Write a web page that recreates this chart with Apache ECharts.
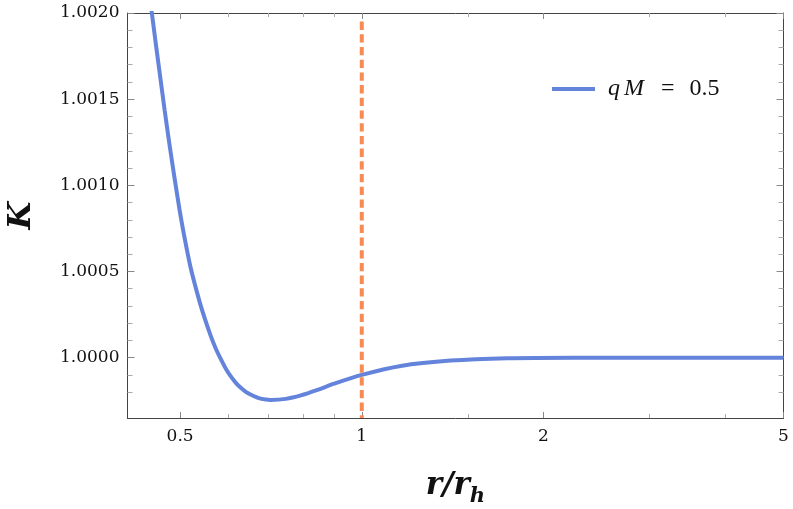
<!DOCTYPE html>
<html><head><meta charset="utf-8">
<script src="https://cdn.jsdelivr.net/npm/echarts@6/dist/echarts.min.js"></script>
<style>html,body{margin:0;padding:0;background:#fff}#c{width:793px;height:509px}</style>
</head><body><div id="c"></div>
<script>
// ---- data ----
const rValues = [0.4482, 0.4556, 0.4634, 0.4713, 0.4798, 0.4891, 0.4990, 0.5069, 0.5200, 0.5376, 0.5494, 0.5621, 0.5730, 0.5843, 0.5953, 0.6067, 0.6184, 0.6303, 0.6424, 0.6552, 0.6751, 0.6934, 0.7067, 0.7483, 0.7925, 0.8446, 0.8998, 1.0, 1.1604, 1.404, 1.743, 2.245, 3.0, 4.0, 5.0];
const kValues = [1.002016, 1.001823, 1.001629, 1.001436, 1.001243, 1.001049, 1.000856, 1.000721, 1.000528, 1.000334, 1.000226, 1.000125, 1.000052, 0.999990, 0.999936, 0.999891, 0.999854, 0.999825, 0.999802, 0.999785, 0.999765, 0.999757, 0.999755, 0.999761, 0.999781, 0.999813, 0.999849, 0.999900, 0.999952, 0.999983, 0.999997, 1.000000, 1.000000, 1.000000, 1.000000];
const seriesName = 'qM = 0.5';
const horizonR = [1, 1];
const horizonK = [1.00195, 0.99965];
const xMajorTicks = [0.5, 1, 2, 5];
const xMinorTicks = [0.6, 0.7, 0.8, 0.9, 1.5, 3, 4];
const yMajorTicks = [1.0000, 1.0005, 1.0010, 1.0015, 1.0020];
const yMinorTicks = [0.9998, 0.9999, 1.0001, 1.0002, 1.0003, 1.0004, 1.0006, 1.0007, 1.0008, 1.0009, 1.0011, 1.0012, 1.0013, 1.0014, 1.0016, 1.0017, 1.0018, 1.0019];
const xRange = [0.409, 5];
const yRange = [0.99965, 1.0020];

const blue = '#6483DB';
const orange = '#F88A54';
const frame = '#444';
const tickFont = 'DejaVu Serif';

function xAxisDef(pos, ticks, len, showLine, label, tickColor) {
  const a = {
    type: 'log', logBase: 10, min: xRange[0], max: xRange[1], position: pos,
    axisLine: { show: showLine, onZero: false, lineStyle: { color: frame, width: 1 } },
    axisTick: { show: true, inside: true, length: len, customValues: ticks, lineStyle: { color: tickColor, width: 1 } },
    axisLabel: { show: !!label, customValues: ticks, margin: 10, color: '#111', fontFamily: tickFont, fontSize: 17, formatter: v => String(+(+v).toPrecision(6)) },
    splitLine: { show: false }, minorTick: { show: false }, minorSplitLine: { show: false }
  };
  if (label) {
    a.name = '{m|r/r}{s|h}';
    a.nameLocation = 'middle';
    a.nameGap = 52;
    a.nameTextStyle = {
      rich: {
        m: { fontFamily: 'DejaVu Serif', fontWeight: 'bold', fontStyle: 'italic', fontSize: 31, color: '#111', verticalAlign: 'bottom', padding: [0, 0, 6, 0] },
        s: { fontFamily: 'DejaVu Serif', fontWeight: 'bold', fontStyle: 'italic', fontSize: 21, color: '#111', verticalAlign: 'bottom' }
      }
    };
  }
  return a;
}
function yAxisDef(pos, ticks, len, showLine, label, tickColor) {
  const a = {
    type: 'value', min: yRange[0], max: yRange[1], position: pos,
    axisLine: { show: showLine, onZero: false, lineStyle: { color: frame, width: 1 } },
    axisTick: { show: true, inside: true, length: len, customValues: ticks, lineStyle: { color: tickColor, width: 1 } },
    axisLabel: { show: !!label, customValues: ticks, margin: 8, color: '#111', fontFamily: tickFont, fontSize: 17, formatter: v => (+v).toFixed(4) },
    splitLine: { show: false }, minorTick: { show: false }, minorSplitLine: { show: false }
  };
  if (label) {
    a.name = 'K';
    a.nameLocation = 'middle';
    a.nameGap = 90;
    a.nameTextStyle = { fontFamily: 'DejaVu Serif', fontWeight: 'bold', fontStyle: 'italic', fontSize: 32, color: '#111' };
  }
  return a;
}

const chart = echarts.init(document.getElementById('c'), null, { renderer: 'canvas' });
chart.setOption({
  animation: false,
  backgroundColor: '#fff',
  grid: { left: 127.5, right: 9.5, top: 13, bottom: 91, containLabel: false, outerBoundsMode: 'none' },
  legend: {
    data: [seriesName], left: 547, top: 72, icon: 'rect', itemWidth: 43, itemHeight: 4,
    formatter: () => '{sp| }{it|q}{sp2| }{it|M}{sp3| }{rm|=}{sp4| }{rm|0.5}',
    textStyle: {
      fontFamily: 'Liberation Serif', fontSize: 24, color: '#111',
      rich: {
        sp: { width: 8, fontFamily: 'Liberation Serif', fontSize: 24 },
        sp2: { width: 4, fontFamily: 'Liberation Serif', fontSize: 24 },
        sp3: { width: 17, fontFamily: 'Liberation Serif', fontSize: 24 },
        sp4: { width: 15, fontFamily: 'Liberation Serif', fontSize: 24 },
        it: { fontFamily: 'Liberation Serif', fontStyle: 'italic', fontSize: 24, color: '#111' },
        rm: { fontFamily: 'Liberation Serif', fontStyle: 'normal', fontSize: 24, color: '#111' }
      }
    }
  },
  xAxis: [
    xAxisDef('bottom', xMajorTicks, 6, true, true, '#888'),
    xAxisDef('bottom', xMinorTicks, 4, false, false, '#aaa'),
    xAxisDef('top', xMajorTicks, 6, true, false, '#888'),
    xAxisDef('top', xMinorTicks, 4, false, false, '#aaa')
  ],
  yAxis: [
    yAxisDef('left', yMajorTicks, 7, true, true, '#888'),
    yAxisDef('left', yMinorTicks, 5, false, false, '#aaa'),
    yAxisDef('right', yMajorTicks, 7, true, false, '#888'),
    yAxisDef('right', yMinorTicks, 5, false, false, '#aaa')
  ],
  series: [
    {
      name: 'horizon', type: 'line', xAxisIndex: 0, yAxisIndex: 0,
      data: horizonR.map((r, i) => [r, horizonK[i]]),
      showSymbol: false, symbol: 'none', silent: true, z: 3,
      lineStyle: { color: orange, width: 4, type: [8.3, 4.4] }
    },
    {
      name: seriesName, type: 'line', xAxisIndex: 0, yAxisIndex: 0,
      data: rValues.map((r, i) => [r, kValues[i]]),
      showSymbol: false, symbol: 'none', smooth: 0.3, clip: true, z: 2,
      color: blue,
      lineStyle: { color: blue, width: 4 }
    }
  ]
});
</script>
</body></html>
